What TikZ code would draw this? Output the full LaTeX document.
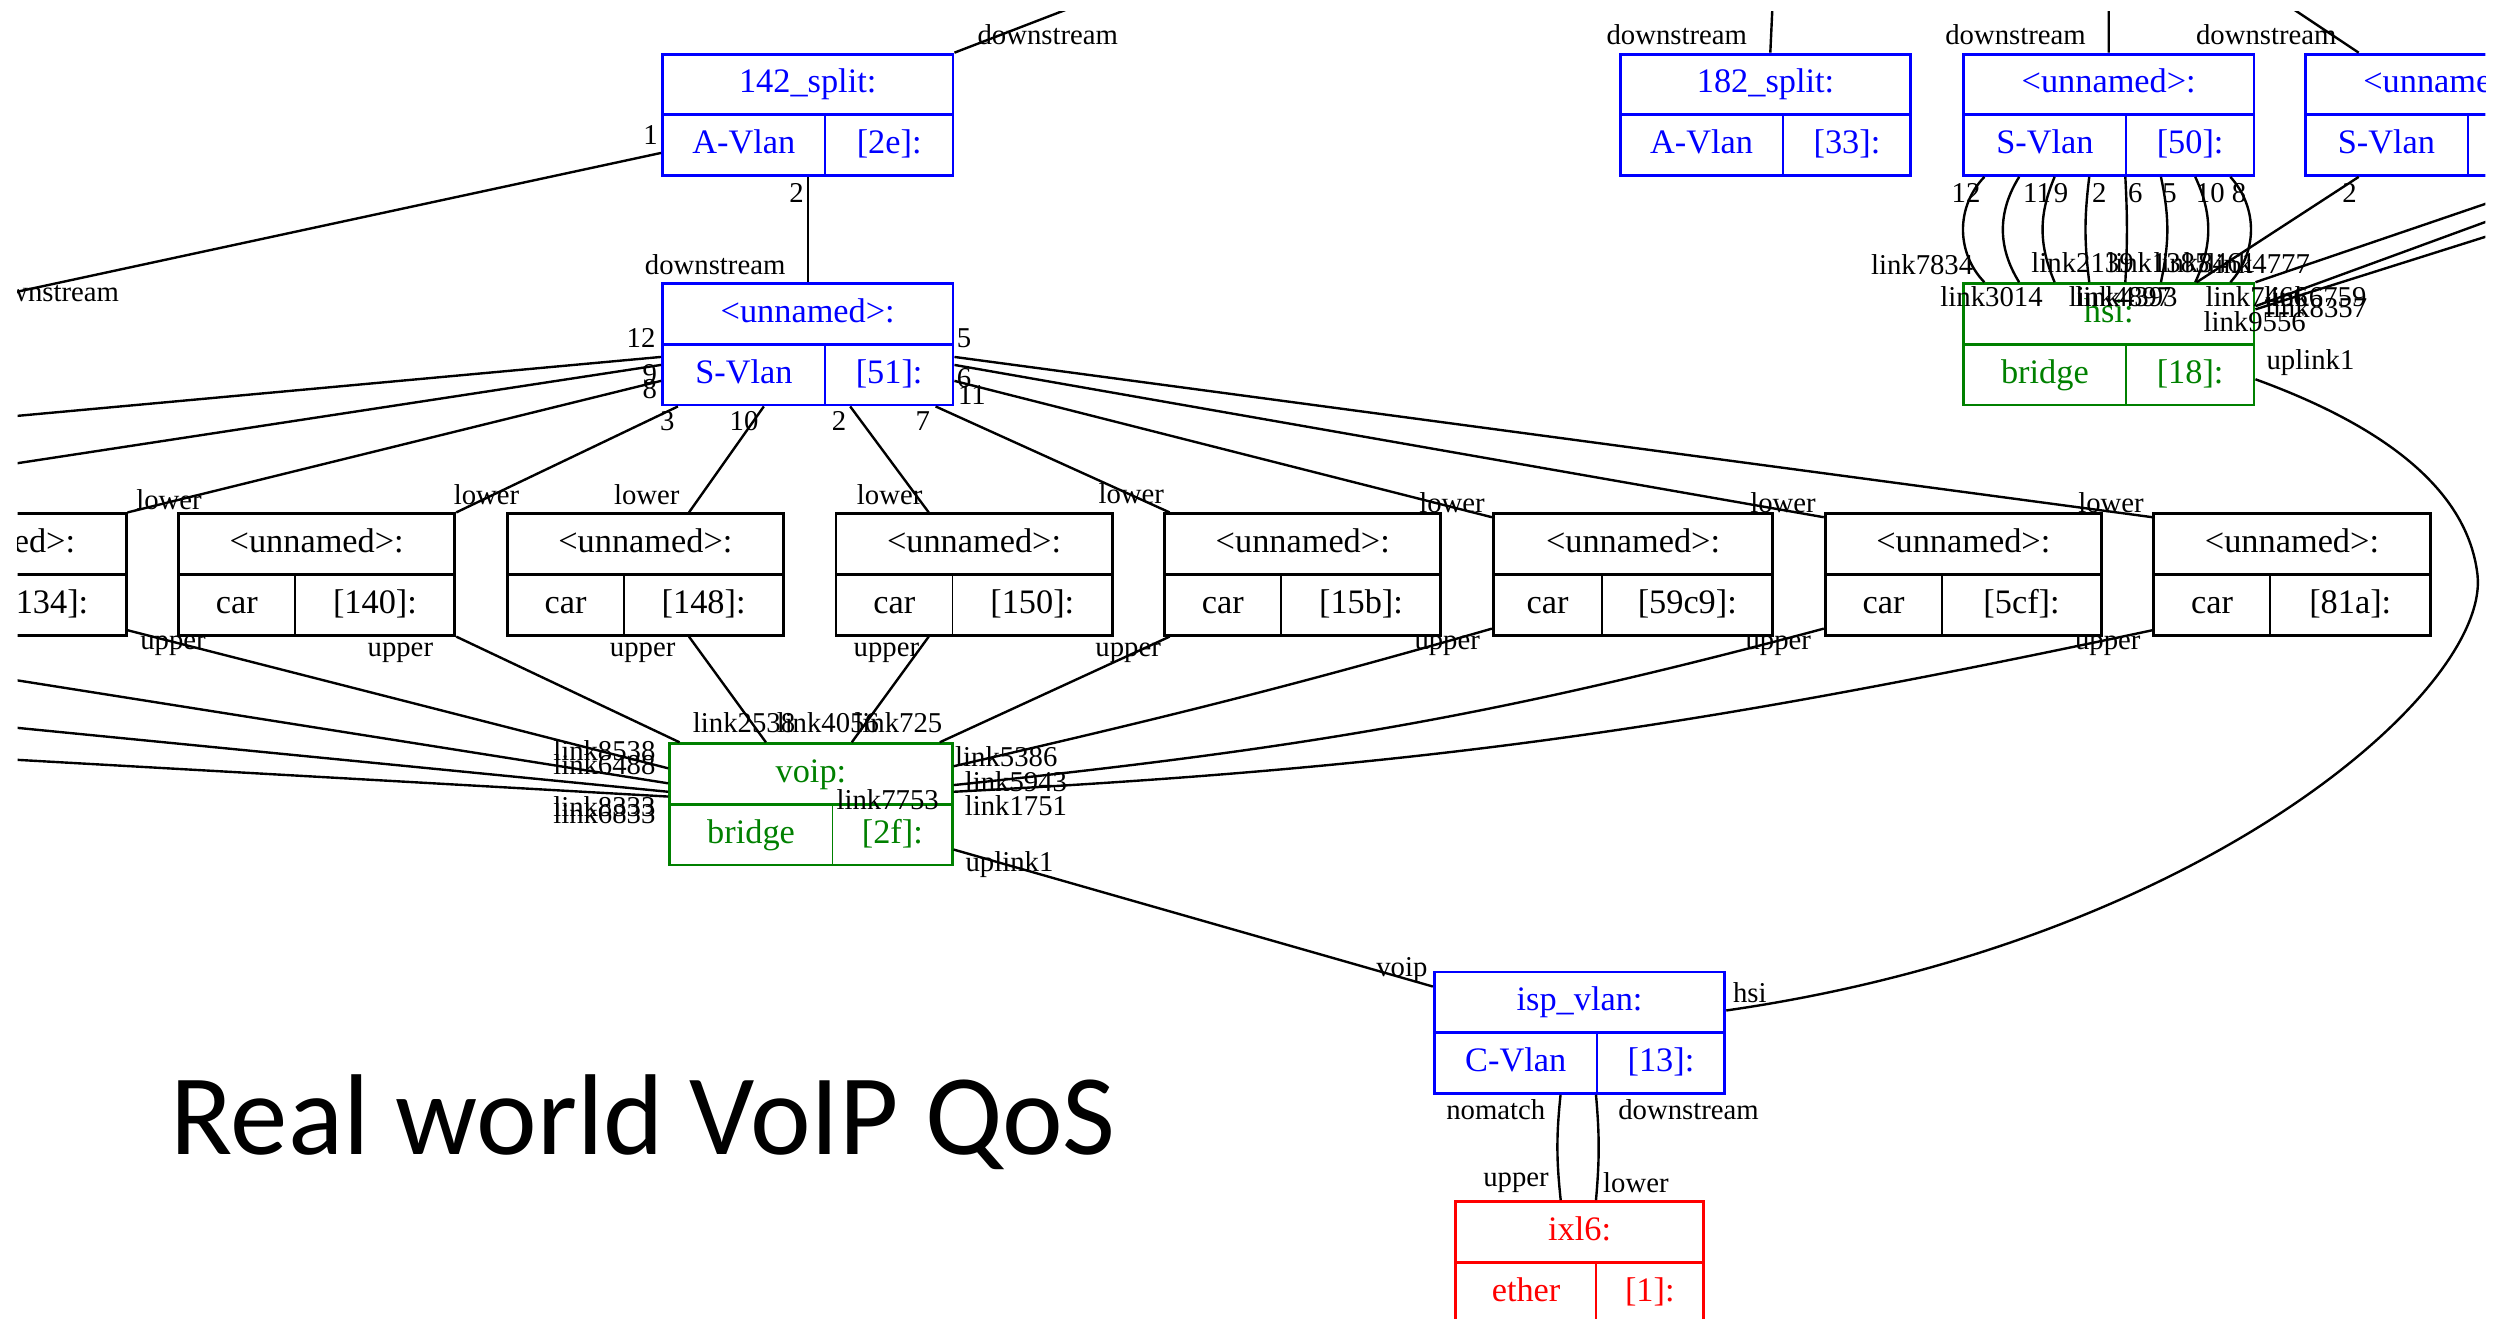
\documentclass[tikz,border=0pt]{standalone}
\usepackage{fontspec}
\setmainfont{Liberation Serif}
\newfontfamily\titlefont{Carlito}
\usetikzlibrary{positioning,shapes.multipart}
\definecolor{recblue}{RGB}{0,0,255}
\definecolor{recgreen}{RGB}{0,128,0}
\definecolor{recred}{RGB}{255,0,0}
\newcommand{\rowst}{\rule[-12.8pt]{0pt}{36.2pt}}
\newcommand{\cells}[4]{\rowst\makebox[#1pt]{#3}\makebox[0pt]{\vrule width 1.2pt height 23.4pt depth 12.8pt}\makebox[#2pt]{#4}}
\tikzset{
  rec/.style={draw=#1, text=#1, rectangle split, rectangle split parts=2,
    inner xsep=0pt, inner ysep=0pt, line width=1.8pt, anchor=north,
    font=\fontsize{21.5}{24}\selectfont},
  lbl/.style={font=\fontsize{18}{20}\selectfont, inner sep=0pt, text=black},
  tlab/.style={lbl, at start, shift={(#1)}},
  hlab/.style={lbl, at end, shift={(#1)}}
}

\begin{document}
\begin{tikzpicture}[x=1pt,y=-1pt,line width=1.5pt,node distance=66pt]
\useasboundingbox (0,0) rectangle (1568,828);
\begin{scope}
\clip (11,7) rectangle (1557,826);
\node[rec=recblue] (sp142) at (506,33) {142\_split:\rowst\nodepart{two}\cells{102}{80}{A-Vlan}{[2e]:}};
\node[rec=recblue, below=of sp142] (sv51) {<unnamed>:\rowst\nodepart{two}\cells{102}{80}{S-Vlan}{[51]:}};
\node[rec=recblue] (sp182) at (1106,33) {182\_split:\rowst\nodepart{two}\cells{102}{80}{A-Vlan}{[33]:}};
\node[rec=recblue, right=31.2pt of sp182] (sv50) {<unnamed>:\rowst\nodepart{two}\cells{102}{80}{S-Vlan}{[50]:}};
\node[rec=recblue, right=30.2pt of sv50] (sv2) {<unnamed>:\rowst\nodepart{two}\cells{102}{80}{S-Vlan}{[52]:}};
\node[rec=recgreen, below=of sv50] (hsi) {hsi:\rowst\nodepart{two}\cells{102}{80}{bridge}{[18]:}};
\node[rec=black] (c134) at (-7.5,321) {<unnamed>:\rowst\nodepart{two}\cells{73}{100}{car}{[134]:}};
\node[rec=black, right=31.1pt of c134] (c140) {<unnamed>:\rowst\nodepart{two}\cells{73}{100}{car}{[140]:}};
\node[rec=black, right=31.1pt of c140] (c148) {<unnamed>:\rowst\nodepart{two}\cells{73}{100}{car}{[148]:}};
\node[rec=black, right=31.1pt of c148] (c150) {<unnamed>:\rowst\nodepart{two}\cells{73}{100}{car}{[150]:}};
\node[rec=black, right=31.1pt of c150] (c15b) {<unnamed>:\rowst\nodepart{two}\cells{73}{100}{car}{[15b]:}};
\node[rec=black, right=31.1pt of c15b] (c59c9) {<unnamed>:\rowst\nodepart{two}\cells{68}{107}{car}{[59c9]:}};
\node[rec=black, right=31.1pt of c59c9] (c5cf) {<unnamed>:\rowst\nodepart{two}\cells{73}{100}{car}{[5cf]:}};
\node[rec=black, right=31.1pt of c5cf] (c81a) {<unnamed>:\rowst\nodepart{two}\cells{73}{100}{car}{[81a]:}};
\node[rec=recgreen] (voip) at (508,465) {voip:\rowst\nodepart{two}\cells{102}{75}{bridge}{[2f]:}};
\node[rec=recblue] (isp) at (989.5,608) {isp\_vlan:\rowst\nodepart{two}\cells{102}{80}{C-Vlan}{[13]:}};
\node[rec=recred, below=of isp] (ixl) {ixl6:\rowst\nodepart{two}\cells{88}{67}{ether}{[1]:}};
\coordinate (o1) at (720,-14);
\coordinate (o2) at (-60,198);
\coordinate (o3) at (-60,267);
\coordinate (o4) at (-60,301);
\coordinate (o5) at (-60,415);
\coordinate (o6) at (-60,449);
\coordinate (o7) at (-60,472);
\coordinate (o8) at (1111,-10);
\coordinate (o9) at (1321,-10);
\coordinate (o10) at (1413,-10);
\coordinate (o11) at (1650,96);
\coordinate (o12) at (1650,105);
\coordinate (o13) at (1650,119);
\path (sp142.north east) edge node[tlab={58.5,-11}] {downstream} (o1)
  ([shift={(0,-15)}]sp142.south west) edge node[tlab={-6.5,-11.5}] {1} node[hlab={90.6,-15}] {downstream} (o2)
  (sp142.south) edge node[tlab={-7,10}] {2} node[hlab={-58,-11}] {downstream} (sv51.north)
  ([shift={(3,0)}]sp182.north) edge node[tlab={-58.6,-11}] {downstream} (o8)
  (sv50.north) edge node[tlab={-58.4,-11}] {downstream} (o9)
  ([shift={(34.5,0)}]sv2.north west) edge node[tlab={-57.9,-11}] {downstream} (o10);
\path ([shift={(0,-31)}]sv51.south west) edge node[tlab={-12.5,-12}] {12} (o3)
  ([shift={(0,-26)}]sv51.south west) edge node[tlab={-7,6}] {9} (o4)
  ([shift={(0,-16)}]sv51.south west) edge node[tlab={-7,5}] {8} node[hlab={26,-8}] {lower} (c134.north east)
  ([shift={(10.6,0)}]sv51.south west) edge node[tlab={-6.6,9}] {3} node[hlab={19,-11}] {lower} (c140.north east)
  ([shift={(64.4,0)}]sv51.south west) edge node[tlab={-12.4,9}] {10} node[hlab={-26.4,-11}] {lower} ([shift={(27.3,0)}]c148.north)
  ([shift={(118.5,0)}]sv51.south west) edge node[tlab={-7,9}] {2} node[hlab={-24.5,-11}] {lower} ([shift={(-28.4,0)}]c150.north)
  ([shift={(172,0)}]sv51.south west) edge node[tlab={-8,9}] {7} node[hlab={-24,-12}] {lower} ([shift={(4,0)}]c15b.north west)
  ([shift={(0,-31)}]sv51.south east) edge node[tlab={6,-12}] {5} node[hlab={-26,-9}] {lower} ([shift={(0,3)}]c81a.north west)
  ([shift={(0,-26)}]sv51.south east) edge node[tlab={6,8}] {6} node[hlab={-25.5,-9}] {lower} ([shift={(0,3)}]c5cf.north west)
  ([shift={(0,-16)}]sv51.south east) edge node[tlab={11,9}] {11} node[hlab={-25,-9}] {lower} ([shift={(0,3)}]c59c9.north west);
\path ([shift={(0,-4)}]c134.south east) edge node[tlab={28.5,10}] {upper} node[hlab={-40,-11.3}] {link8538} ([shift={(0,16.3)}]voip.north west)
  (c140.south east) edge node[tlab={-35,10}] {upper} node[hlab={40.4,-12}] {link2538} ([shift={(7.1,0)}]voip.north west)
  ([shift={(27.3,0)}]c148.south) edge node[tlab={-29,10}] {upper} node[hlab={38.8,-12}] {link4056} ([shift={(61.2,0)}]voip.north west)
  ([shift={(-28.4,0)}]c150.south) edge node[tlab={-26.5,10}] {upper} node[hlab={29.2,-12}] {link725} ([shift={(115,0)}]voip.north west)
  ([shift={(4,0)}]c15b.south west) edge node[tlab={-26,10}] {upper} node[hlab={-32.6,36}] {link7753} ([shift={(170.1,0)}]voip.north west)
  ([shift={(0,-5)}]c59c9.south west) edge[out=196,in=13] node[tlab={-28,11}] {upper} node[hlab={33,-6}] {link5386} ([shift={(0,15)}]voip.north east)
  ([shift={(0,-5)}]c5cf.south west) edge[out=195,in=6] node[tlab={-28.5,11}] {upper} node[hlab={39,-2}] {link5943} ([shift={(0,26.8)}]voip.north east)
  ([shift={(0,-4)}]c81a.south west) edge[out=192,in=3] node[tlab={-28,10}] {upper} node[hlab={39,8.5}] {link1751} ([shift={(0,31)}]voip.north east)
  (o5) edge node[hlab={-40,-11.5}] {link6488} ([shift={(0,25.7)}]voip.north west)
  (o6) edge node[hlab={-40,9.3}] {link8333} ([shift={(0,31)}]voip.north west)
  (o7) edge node[hlab={-40,10.5}] {link6833} ([shift={(0,34)}]voip.north west);
\path ([shift={(14,0)}]sv50.south west) edge[bend right=44] node[tlab={-11.5,10}] {12} node[hlab={-39,-11}] {link7834} ([shift={(14,0)}]hsi.north west)
  ([shift={(35.8,0)}]sv50.south west) edge[bend right=32] node[tlab={11.2,10}] {11} node[hlab={-17.3,9}] {link3014} ([shift={(35.8,0)}]hsi.north west)
  ([shift={(58,0)}]sv50.south west) edge[bend right=23] node[tlab={4,10}] {9} node[hlab={17.5,-12}] {link2139} ([shift={(58,0)}]hsi.north west)
  ([shift={(79.7,0)}]sv50.south west) edge[bend right=7] node[tlab={6.3,10}] {2} node[hlab={19.3,9}] {link4897} ([shift={(79.7,0)}]hsi.north west)
  ([shift={(102.3,0)}]sv50.south west) edge[bend left=3] node[tlab={6.2,10}] {6} node[hlab={0.7,9}] {link4393} ([shift={(102.3,0)}]hsi.north west)
  ([shift={(124.6,0)}]sv50.south west) edge[bend left=12] node[tlab={5.4,10}] {5} node[hlab={-1.6,-12}] {link1385} ([shift={(124.6,0)}]hsi.north west)
  ([shift={(146.1,0)}]sv50.south west) edge[bend left=25] node[tlab={9.4,10}] {10} node[hlab={5.9,-12}] {link8461} ([shift={(146.1,0)}]hsi.north west)
  ([shift={(168.1,0)}]sv50.south west) edge[bend left=42] node[tlab={5.4,10}] {8} node[hlab={17.8,-12}] {link4777} ([shift={(168.1,0)}]hsi.north west)
  ([shift={(34.5,0)}]sv2.south west) edge node[tlab={-5.7,10.4}] {2} node[hlab={37.6,9}] {link7466} ([shift={(147,0)}]hsi.north west)
  (o11) edge node[hlab={37.5,9}] {link6759} (hsi.north east)
  (o12) edge node[hlab={38,1}] {link8357} ([shift={(0,15)}]hsi.north east)
  (o13) edge node[hlab={-0.5,7.5}] {link9556} ([shift={(0,17)}]hsi.north east);
\path ([shift={(0,-10.6)}]voip.south east) edge node[tlab={35,9.6}] {uplink1} node[hlab={-19.4,-10.3}] {voip} ([shift={(0,10)}]isp.north west)
  ([shift={(80,0)}]isp.south west) edge[bend right=6] node[tlab={-40.6,9.5}] {nomatch} node[hlab={-28,-10.7}] {upper} ([shift={(66.6,0)}]ixl.north west)
  ([shift={(102.2,0)}]isp.south west) edge[bend left=5] node[tlab={58,9.5}] {downstream} node[hlab={25,-10.7}] {lower} ([shift={(88.7,0)}]ixl.north west);
\draw ([shift={(0,-17)}]hsi.south east) node[lbl, shift={(34.5,-10.5)}] {uplink1}
  .. controls (1480,262) and (1545,300) .. (1552,360)
  .. controls (1560,432) and (1380,590) .. ([shift={(0,25)}]isp.north east) node[lbl, shift={(14.8,-11.3)}] {hsi};
\end{scope}
\node[font=\titlefont\fontsize{72}{82}\selectfont, anchor=base west, inner sep=0pt] (title) at (106,723.5) {Real world VoIP QoS};
\end{tikzpicture}
\end{document}
